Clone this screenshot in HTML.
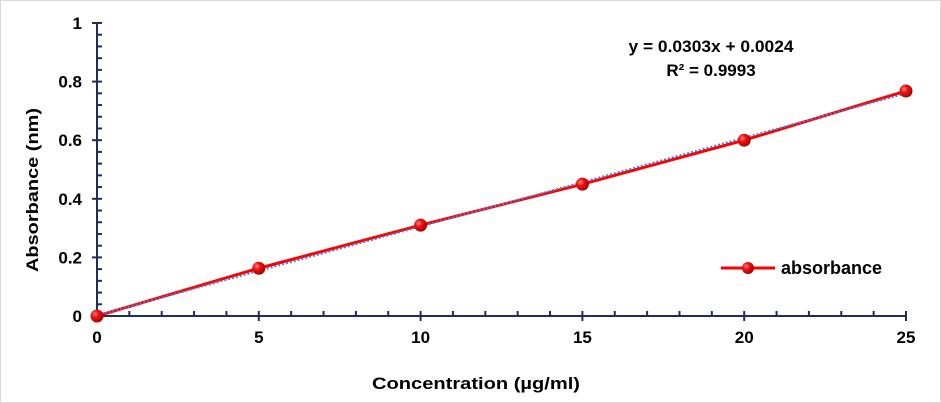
<!DOCTYPE html>
<html><head><meta charset="utf-8"><style>
html,body{margin:0;padding:0;background:#fff;}
svg{display:block;font-family:"Liberation Sans",Arial,sans-serif;}
</style></head><body>
<svg id="chart" width="941" height="403" viewBox="0 0 941 403" xmlns="http://www.w3.org/2000/svg">
<defs>
<radialGradient id="ball" cx="35%" cy="35%" r="70%">
<stop offset="0" stop-color="#ff8080"/><stop offset="0.4" stop-color="#ee1111"/><stop offset="1" stop-color="#a00000"/>
</radialGradient>
</defs>
<rect x="0.5" y="0.5" width="940" height="402" fill="#fff" stroke="#d9d9d9"/>
<g id="axes"></g>
<g id="marks"></g>
<text x="711" y="52" text-anchor="middle" font-size="17" font-weight="bold" fill="#000" textLength="165" lengthAdjust="spacingAndGlyphs">y = 0.0303x + 0.0024</text>
<text x="711" y="76" text-anchor="middle" font-size="17" font-weight="bold" fill="#000">R² = 0.9993</text>
<text x="476" y="389" text-anchor="middle" font-size="17" font-weight="bold" fill="#000" textLength="208" lengthAdjust="spacingAndGlyphs">Concentration (µg/ml)</text>
<text transform="translate(38,190) rotate(-90)" text-anchor="middle" font-size="17" font-weight="bold" fill="#000" textLength="164" lengthAdjust="spacingAndGlyphs">Absorbance (nm)</text>
<g>
<line x1="721" y1="268" x2="775" y2="268" stroke="#ff0000" stroke-width="3"/>
<circle cx="748" cy="268" r="6" fill="url(#ball)"/>
<text x="781" y="274" font-size="18" font-weight="bold" fill="#000">absorbance</text>
</g>
</svg>
<script>
const xCategories=[0,5,10,15,20,25];
const absorbance=[0,0.163,0.31,0.45,0.60,0.768];
const xTicks=[0,5,10,15,20,25];
const yTicks=[0,0.2,0.4,0.6,0.8,1];
const yTickLabels=["0","0.2","0.4","0.6","0.8","1"];
const slope=0.0303, intercept=0.0024;

const X0=97,X1=906,Y0=316,Y1=23;
const sx=v=>X0+(v-0)/25*(X1-X0);
const sy=v=>Y0-(v-0)/1*(Y0-Y1);
const NS="http://www.w3.org/2000/svg";
const axes=document.getElementById('axes'), marks=document.getElementById('marks');
function mk(tag,attrs,parent){const e=document.createElementNS(NS,tag);for(const k in attrs)e.setAttribute(k,attrs[k]);parent.appendChild(e);return e;}
const AX="#1f2d5c";
let e;
e=mk('line',{x1:X0,y1:Y0,x2:X1,y2:Y0,stroke:AX,'stroke-width':2},axes);


e=mk('line',{x1:X0,y1:Y0,x2:X0,y2:Y1,stroke:AX,'stroke-width':2},axes);


for(let v=0;v<=25;v++){
  const x=sx(v), major=v%5===0;
  mk('line',{x1:x,y1:major?Y0+5:Y0,x2:x,y2:Y0-5,stroke:AX,'stroke-width':2},axes);
}
xTicks.forEach(v=>{
  e=mk('text',{x:sx(v),y:Y0+27,'text-anchor':'middle','font-size':17,'font-weight':'bold',fill:'#000'},axes);
  e.textContent=String(v);
  
  
});
for(let i=0;i<=25;i++){
  const v=i*0.04,y=sy(v),major=i%5===0;
  mk('line',{x1:major?X0-5:X0,y1:y,x2:X0+5,y2:y,stroke:AX,'stroke-width':2},axes);
}
yTicks.forEach((v,i)=>{
  e=mk('text',{x:X0-15,y:sy(v)+6,'text-anchor':'end','font-size':17,'font-weight':'bold',fill:'#000'},axes);
  e.textContent=yTickLabels[i];
  
  
});
const pts=xCategories.map((c,i)=>sx(c)+','+sy(absorbance[i])).join(' ');
e=mk('polyline',{points:pts,fill:'none',stroke:'#ff0000','stroke-width':3},marks);


const xa=xCategories[0], xb=xCategories[xCategories.length-1];
e=mk('line',{x1:sx(xa),y1:sy(slope*xa+intercept),x2:sx(xb),y2:sy(slope*xb+intercept),stroke:'#4a7fd4','stroke-width':2,'stroke-dasharray':'2,2'},marks);


xCategories.forEach((c,i)=>{
  e=mk('circle',{cx:sx(c),cy:sy(absorbance[i]),r:6.5,fill:'url(#ball)'},marks);
  
  
});
</script>
</body></html>
